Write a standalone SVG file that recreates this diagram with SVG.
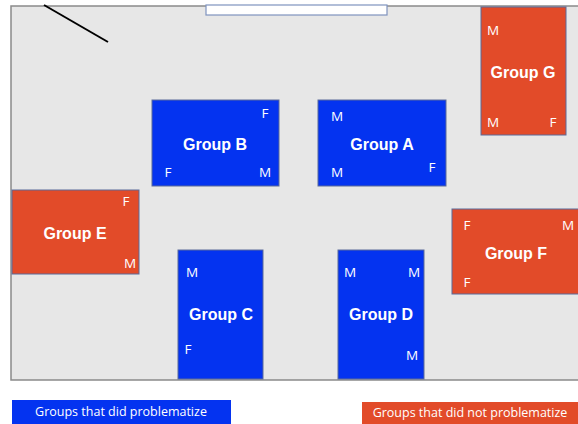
<svg xmlns="http://www.w3.org/2000/svg" width="578" height="424" viewBox="0 0 578 424">
<style>
.room{fill:#e7e7e7;stroke:#8a8a8a;stroke-width:1.5}
.blue{fill:#0433f0;stroke:#5a6a9a;stroke-width:1}
.red{fill:#e24b29;stroke:#5a6a9a;stroke-width:1}
.gl{font-family:"Liberation Sans",Arial,sans-serif;font-weight:bold;font-size:16px;fill:#fff;text-anchor:middle}
.s{font-family:"Open Sans","Liberation Sans",sans-serif;font-size:13.5px;fill:#fff;text-anchor:middle}
.lg{font-family:"Open Sans","Liberation Sans",sans-serif;font-size:12.5px;fill:#fff;text-anchor:middle}
</style>
<rect width="578" height="424" fill="#fff"/>
<rect class="room" x="11" y="6" width="580" height="374"/>
<line x1="44" y1="5" x2="108" y2="42" stroke="#000" stroke-width="2"/>
<rect x="206" y="5" width="181" height="10" fill="#fff" stroke="#7f93bf" stroke-width="1.2"/>
<g id="groupG"><rect class="red" x="481" y="7" width="85" height="128"/><text class="s" x="493" y="35">M</text><text class="gl" x="523" y="78">Group G</text><text class="s" x="493" y="127">M</text><text class="s" x="553" y="127">F</text></g>
<g id="groupB"><rect class="blue" x="152" y="100" width="127" height="86"/><text class="s" x="265" y="118">F</text><text class="gl" x="215" y="150">Group B</text><text class="s" x="168" y="177">F</text><text class="s" x="265" y="177">M</text></g>
<g id="groupA"><rect class="blue" x="318" y="100" width="128" height="86"/><text class="s" x="337" y="121">M</text><text class="gl" x="382" y="150">Group A</text><text class="s" x="337" y="177">M</text><text class="s" x="432" y="172">F</text></g>
<g id="groupE"><rect class="red" x="12" y="190" width="127" height="84"/><text class="s" x="126" y="206">F</text><text class="gl" x="75" y="239">Group E</text><text class="s" x="130" y="268">M</text></g>
<g id="groupF"><rect class="red" x="452" y="209" width="140" height="85"/><text class="s" x="467" y="230">F</text><text class="s" x="568" y="230">M</text><text class="gl" x="516" y="259">Group F</text><text class="s" x="467" y="287">F</text></g>
<g id="groupC"><rect class="blue" x="178" y="250" width="85" height="129"/><text class="s" x="192" y="277">M</text><text class="gl" x="221" y="320">Group C</text><text class="s" x="188" y="354">F</text></g>
<g id="groupD"><rect class="blue" x="338" y="250" width="86" height="129"/><text class="s" x="350" y="277">M</text><text class="s" x="414" y="277">M</text><text class="gl" x="381" y="320">Group D</text><text class="s" x="412" y="360">M</text></g>
<g id="connectors"></g>
<g id="legendBlue"><rect x="12" y="400" width="219" height="24" fill="#0433f0"/><text class="lg" x="121" y="416">Groups that did problematize</text></g>
<g id="legendRed"><rect x="362" y="402" width="216" height="22" fill="#e24b29"/><text class="lg" x="470" y="417">Groups that did not problematize</text></g>
</svg>
